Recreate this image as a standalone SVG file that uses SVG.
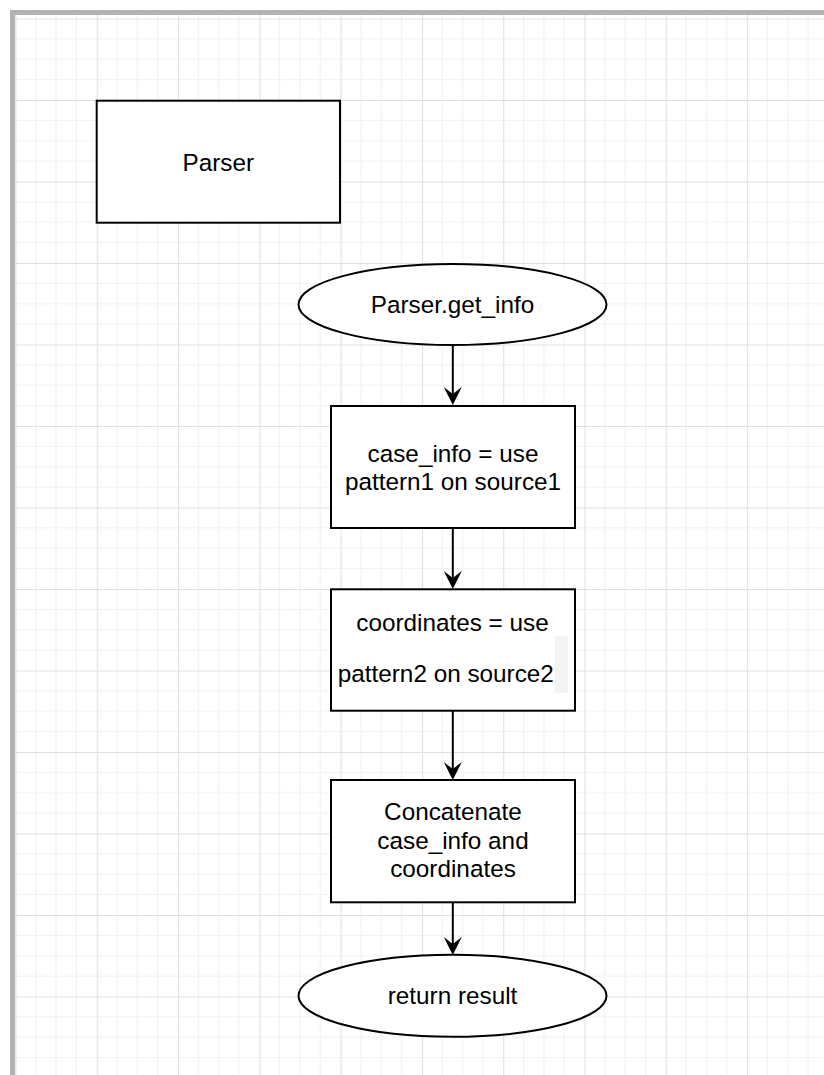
<svg xmlns="http://www.w3.org/2000/svg" width="824" height="1075" viewBox="0 0 824 1075">
  <defs>
    <style>
      .node { fill: #ffffff; stroke: #000000; stroke-width: 2; }
      .label { font-family: "Liberation Sans", Arial, Helvetica, sans-serif; font-size: 24.3px; fill: #000000; text-anchor: middle; }
      .edge { fill: none; stroke: #000000; stroke-width: 2; }
      .minor { stroke: #f1f1f1; stroke-width: 1.2; }
      .major { stroke: #e0e0e0; stroke-width: 1.2; }
    </style>
    <!-- canvas grid: a major cell of ~81.3 x 81.5 split into 4 x 4 minor cells -->
    <pattern id="grid" patternUnits="userSpaceOnUse" x="15.4" y="18.5" width="81.3" height="81.5">
      <line class="minor" x1="20.33" y1="0" x2="20.33" y2="81.5"/>
      <line class="minor" x1="40.65" y1="0" x2="40.65" y2="81.5"/>
      <line class="minor" x1="60.98" y1="0" x2="60.98" y2="81.5"/>
      <line class="minor" x1="0" y1="20.38" x2="81.3" y2="20.38"/>
      <line class="minor" x1="0" y1="40.75" x2="81.3" y2="40.75"/>
      <line class="minor" x1="0" y1="61.13" x2="81.3" y2="61.13"/>
      <line class="major" x1="0.5" y1="0" x2="0.5" y2="81.5"/>
      <line class="major" x1="0" y1="0.5" x2="81.3" y2="0.5"/>
    </pattern>
    <marker id="arrow" markerUnits="userSpaceOnUse" markerWidth="18" markerHeight="18" viewBox="0 0 18 18" refX="7" refY="9" orient="auto">
      <path d="M0,0 L18,9 L0,18 L7,9 Z" fill="#000000"/>
    </marker>
  </defs>

  <!-- page background, grid and frame -->
  <rect x="0" y="0" width="824" height="1075" fill="#ffffff"/>
  <rect x="15" y="15" width="809" height="1060" fill="url(#grid)"/>
  <rect x="10" y="10" width="814" height="5" fill="#b3b3b3"/>
  <rect x="10" y="10" width="5" height="1065" fill="#b3b3b3"/>

  <!-- connectors -->
  <g id="edges">
    <path class="edge" d="M452.8,345 L452.8,394" marker-end="url(#arrow)"/>
    <path class="edge" d="M452.8,528 L452.8,578" marker-end="url(#arrow)"/>
    <path class="edge" d="M452.8,711 L452.8,769" marker-end="url(#arrow)"/>
    <path class="edge" d="M452.8,902 L452.8,944" marker-end="url(#arrow)"/>
  </g>

  <g id="parser">
    <rect class="node" x="96.7" y="100.7" width="243.3" height="122"/>
    <text class="label" x="218.3" y="171">Parser</text>
  </g>

  <g id="get-info">
    <ellipse class="node" cx="452.5" cy="304.5" rx="154" ry="40.5"/>
    <text class="label" x="452.5" y="313.3">Parser.get_info</text>
  </g>

  <g id="case-info">
    <rect class="node" x="331" y="406" width="244" height="122"/>
    <text class="label" x="453" y="461.7">case_info = use</text>
    <text class="label" x="453" y="490">pattern1 on source1</text>
  </g>

  <g id="coordinates">
    <rect class="node" x="331" y="589.3" width="244" height="121.4"/>
    <rect x="555" y="636" width="12.7" height="56.7" fill="#f3f3f3"/>
    <text class="label" x="452.5" y="630.7">coordinates = use</text>
    <text class="label" x="445.8" y="681.7">pattern2 on source2</text>
  </g>

  <g id="concatenate">
    <rect class="node" x="331" y="780" width="244" height="122.3"/>
    <text class="label" x="453" y="820">Concatenate</text>
    <text class="label" x="453" y="849">case_info and</text>
    <text class="label" x="453" y="876.7">coordinates</text>
  </g>

  <g id="return-result">
    <ellipse class="node" cx="452.5" cy="995.8" rx="154" ry="41"/>
    <text class="label" x="452.5" y="1004">return result</text>
  </g>
</svg>
